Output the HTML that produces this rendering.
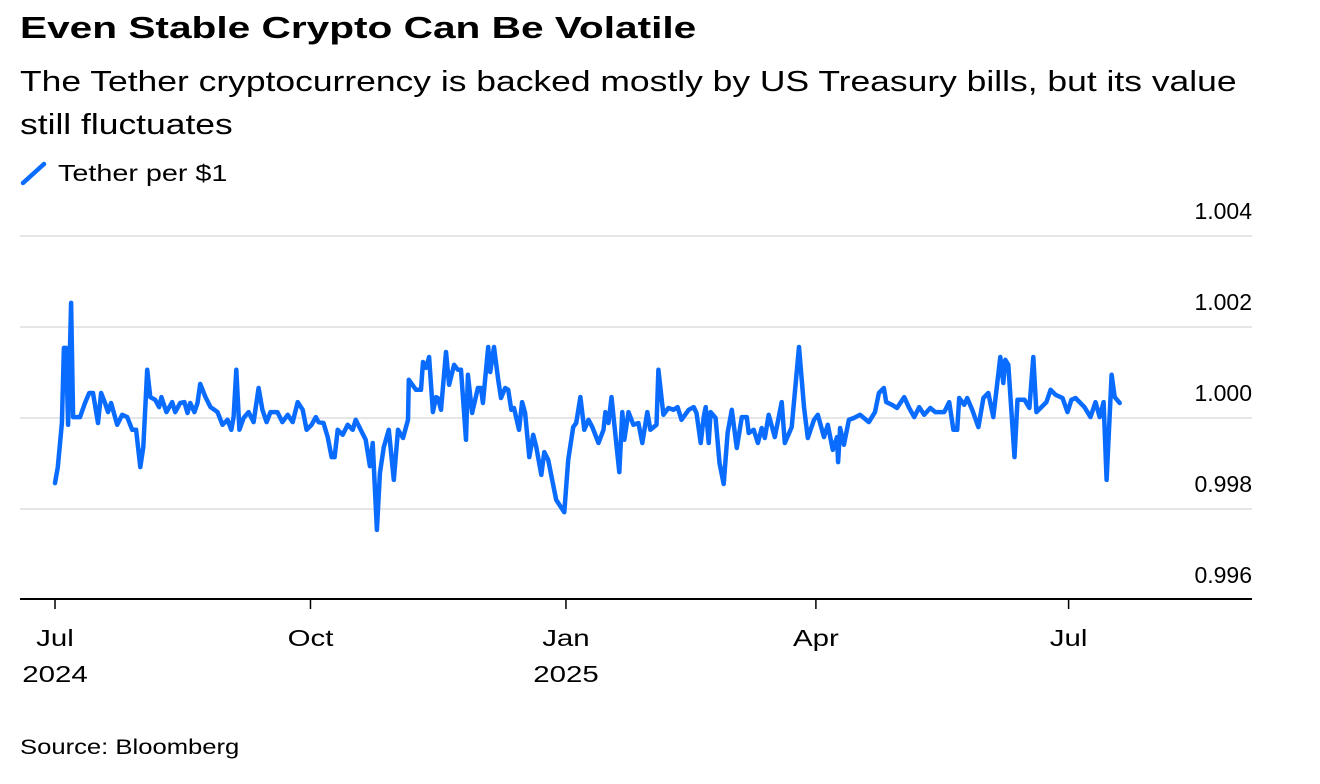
<!DOCTYPE html>
<html><head><meta charset="utf-8">
<style>
body{margin:0;background:#fff;width:1320px;height:784px;overflow:hidden;font-family:"Liberation Sans",sans-serif;color:#000}
.t{position:absolute;left:20px;white-space:nowrap;transform-origin:0 0}
</style></head><body>
<div class="t" style="top:10px;font-size:31px;font-weight:bold;transform:scaleX(1.31)">Even Stable Crypto Can Be Volatile</div>
<div class="t" style="top:61px;font-size:29px;line-height:43px;transform:scaleX(1.222)">The Tether cryptocurrency is backed mostly by US Treasury bills, but its value<br>still fluctuates</div>
<svg width="28" height="26" style="position:absolute;left:20px;top:161px"><line x1="3" y1="22" x2="24" y2="3" stroke="#0a6cff" stroke-width="4.5" stroke-linecap="round"/></svg>
<div class="t" style="top:160px;font-size:23px;left:58px;transform:scaleX(1.25)">Tether per $1</div>
<svg id="chart" width="1320" height="784" style="position:absolute;left:0;top:0"></svg>
<div class="t" style="top:736px;font-size:21px;transform:scaleX(1.22)">Source: Bloomberg</div>
<script>
const days=[0,1,2.5,3.2,4,4.7,5.8,6.5,9,10.8,12.3,13.7,15.5,16.6,18,19.1,20.2,22.4,24.2,26,27.8,29.2,30.7,31.8,33.2,34.3,36.1,37.5,38.3,40.1,42.2,43.3,45.1,46.6,47.7,48.7,50.2,51.3,52.3,54.2,56,58.5,60.3,62.1,63.5,64.3,65.3,66.4,67.9,69.7,71.5,73.3,74.7,76.2,77.6,80.1,81.9,83.8,85.6,87.4,89.2,90.6,92.4,93.9,94.9,96.7,98.2,99.6,100.7,101.8,103.6,105.4,107.2,108.3,110.1,111.9,113.4,114.4,115.9,117,118.4,120.2,122,123.5,125.3,127.1,127.4,130,131.8,132.5,133.6,134.7,136.1,137.2,137.9,139,140.8,141.9,143.7,145.1,146.2,148,148.7,150.2,152.3,153.4,154.1,156,156.7,158.1,159.6,160.6,162.1,163.2,164.3,165.3,167.1,168.2,169.3,170.8,172.2,173.3,175.1,176.2,177.6,180.5,183.4,184.8,186.6,187.7,189.2,190.6,192.1,193.5,195.7,197.5,198.2,199.3,200.4,201.8,203.2,204.3,205,206.5,208.3,210.1,211.5,213.3,214.4,216.6,217.3,219.1,220.9,222.7,224.2,225.6,228.2,230,231,232.5,233.6,234.3,235.4,236.1,237.9,239.3,240.8,242.2,243.7,245.5,247.3,249.1,249.8,251.6,253.1,254.5,255.6,257,259.2,261.7,262.8,265.3,267.9,269.7,271.1,273.3,274.7,276.9,278.3,280.1,281.6,282,282.7,284.1,285.9,287.7,289.9,293.1,295.3,296.7,298.5,299.3,301.4,303.2,305.8,307.6,309.4,311.2,313,315.2,317,320.2,322,323.5,324.9,325.6,327.4,328.5,330.3,332.5,334.3,336.1,337.9,340.4,341.5,342.2,343.3,345.5,346.6,349.1,350.9,352.3,353.4,355.2,357,358.5,360.3,362.8,364.6,366,367.5,370.7,372.9,374.7,376.2,377.6,378.7,380.5,381.6,383.4];
const bps=[-14.3,-10.8,-1.1,15.4,15.4,-1.5,25.3,0.2,0.2,3.3,5.5,5.5,-1.1,5.5,3.3,1.3,3.3,-1.5,0.7,0.2,-2.6,-2.6,-10.8,-6.4,10.6,4.6,4.0,2.4,4.6,1.3,3.5,1.3,3.3,3.5,1.1,3.3,1.3,3.3,7.5,4.6,2.4,1.3,-1.5,-0.4,-2.6,0.2,10.6,-2.6,0,1.3,-0.9,6.6,1.8,-0.9,1.3,1.3,-0.9,0.7,-0.9,3.5,1.8,-2.6,-1.5,0.2,-0.9,-1.1,-4.2,-8.6,-8.6,-2.6,-3.7,-1.5,-2.6,-0.4,-2.6,-4.8,-10.6,-5.5,-24.6,-12.1,-6.4,-2.6,-13.6,-2.6,-4.4,-0.4,8.4,6.2,6.2,12.3,11,13.4,1.3,4.6,4.4,1.8,14.5,7.3,11.7,10.6,10.6,-4.8,9.5,1.1,6.6,6.6,3.3,15.6,10.1,15.6,8.4,4.4,6.6,6.2,1.8,2.2,-2.6,3.5,1.1,-8.6,-3.7,-6.4,-12.5,-7.5,-9.2,-18,-20.7,-9.2,-2.0,-1.1,4.6,-2.6,-0.4,-2.0,-5.5,-2.6,1.3,-1.1,4.6,-3.7,-11.9,1.3,-4.8,1.3,-1.5,-1.1,-5.5,1.3,-2.6,-1.5,10.6,0.7,2.2,1.8,2.4,-0.4,1.8,2.4,1.1,-5.5,0.2,2.4,-5.5,1.3,0,-9.9,-14.5,-3.3,1.8,-6.6,0.2,0.2,-3.3,-2.6,-5.5,-2.2,-4.4,0.7,-4.2,3.5,-5.5,-2.0,15.6,2.4,-4.4,-0.4,0.7,-4.2,-1.5,-7,-4.2,-9.7,-2.2,-5.9,-0.4,0,0.7,-0.9,1.3,5.5,6.6,3.5,2.9,2.2,4.6,2.2,0.2,2.4,0.7,2.2,1.3,1.3,3.5,-2.6,-2.6,4.4,2.9,4.4,1.8,-2.0,4.4,5.5,0.2,13.4,7.7,12.8,11.7,-8.6,4.0,4.0,2.2,13.4,1.3,2.4,3.5,6.2,5.1,4.4,1.3,4.0,4.4,2.4,0.2,3.5,0.2,3.5,-13.6,9.5,4.6,3.3];
const yTicks=[1.004,1.002,1.000,0.998,0.996];
const yTickLabels=["1.004","1.002","1.000","0.998","0.996"];
const xTickDays=[0,92,184,274,365];
const xTickLabels=[["Jul","2024"],["Oct",""],["Jan","2025"],["Apr",""],["Jul",""]];
const NS="http://www.w3.org/2000/svg";
const svg=document.getElementById('chart');
const X=d=>55+d*2.777;
const Y=v=>418-(v-1)*45500;
function mk(t,a){const e=document.createElementNS(NS,t);for(const k in a)e.setAttribute(k,a[k]);svg.appendChild(e);return e;}
yTicks.forEach((v,i)=>{
  if(i<yTicks.length-1){const g=mk('line',{x1:20,x2:1252,y1:Y(v),y2:Y(v),stroke:'#e6e6e6','stroke-width':2});
  
  }
  const t=mk('text',{x:1252,y:Y(v)-17,'text-anchor':'end','font-size':23,'font-family':'Liberation Sans, sans-serif'});
  t.textContent=yTickLabels[i];
  
  
});
const ax=mk('line',{x1:20,x2:1252,y1:599,y2:599,stroke:'#000','stroke-width':2});


xTickDays.forEach((d,i)=>{
  const tk=mk('line',{x1:X(d),x2:X(d),y1:599,y2:609,stroke:'#000','stroke-width':1.5});
  
  
  xTickLabels[i].forEach((s,j)=>{if(!s)return;
    const t=mk('text',{x:X(d),y:646+j*36,'text-anchor':'middle','font-size':23,'font-family':'Liberation Sans, sans-serif'});
    t.textContent=s;
    
    
    const w=t.getComputedTextLength();
    t.setAttribute('textLength',(w*1.28).toFixed(1));
    t.setAttribute('lengthAdjust','spacingAndGlyphs');
  });
});
const pts=days.map((d,i)=>X(d).toFixed(1)+','+Y(1+bps[i]/10000).toFixed(1)).join(' ');
const pl=mk('polyline',{points:pts,fill:'none',stroke:'#0a6cff','stroke-width':4.5,'stroke-linejoin':'round','stroke-linecap':'round'});


</script>
</body></html>
